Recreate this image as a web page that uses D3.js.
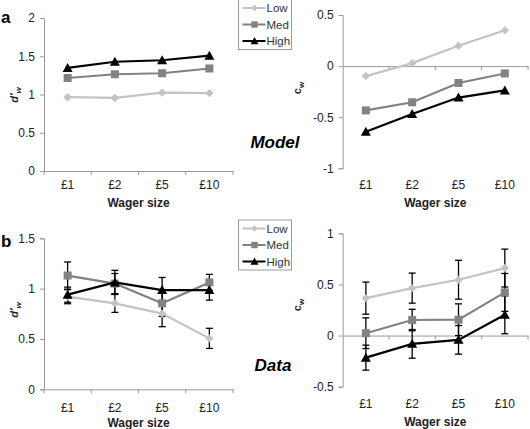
<!DOCTYPE html>
<html><head><meta charset="utf-8">
<script src="https://cdn.jsdelivr.net/npm/d3@7"></script>
<style>body{margin:0;background:#fff}svg{display:block;font-family:"Liberation Sans",Arial,sans-serif}</style>
</head><body><svg id="c" width="530" height="429"></svg>
<script>
const categories = ["£1","£2","£5","£10"];
const seriesNames = ["Low","Med","High"];
// Model (a)
const modelD_Low  = [0.965,0.955,1.024,1.018];
const modelD_Med  = [1.216,1.265,1.278,1.340];
const modelD_High = [1.348,1.428,1.448,1.508];
const modelC_Low  = [-0.098,0.029,0.199,0.350];
const modelC_Med  = [-0.434,-0.354,-0.165,-0.072];
const modelC_High = [-0.642,-0.468,-0.308,-0.238];
// Data (b)
const dataD_Low  = [0.920,0.854,0.752,0.506];
const dataD_Med  = [1.130,1.050,0.854,1.062];
const dataD_High = [0.940,1.062,0.986,0.986];
const dataD_LowErr  = [0.07,0.09,0.13,0.10];
const dataD_MedErr  = [0.135,0.10,0.13,0.08];
const dataD_HighErr = [0.075,0.12,0.125,0.10];
const dataC_Low  = [0.366,0.464,0.546,0.660];
const dataC_Med  = [0.023,0.152,0.155,0.422];
const dataC_High = [-0.216,-0.081,-0.042,0.203];
const dataC_LowErr  = [0.157,0.147,0.19,0.185];
const dataC_MedErr  = [0.15,0.105,0.155,0.185];
const dataC_HighErr = [0.122,0.14,0.14,0.185];
const ticksDa = [0,0.5,1,1.5,2];
const ticksCa = [-1,-0.5,0,0.5];
const ticksDb = [0,0.5,1,1.5];
const ticksCb = [-0.5,0,0.5,1];

const colors = {Low:"#c3c3c3", Med:"#828282", High:"#000000"};
const svg = d3.select("#c");

function marker(g, name, x, y, s){
  if(name==="Low"){
    const r = 4.2*s;
    g.append("path").attr("d",`M${x},${y-r}L${x+r},${y}L${x},${y+r}L${x-r},${y}Z`).attr("fill",colors.Low);
  } else if(name==="Med"){
    const r = 4*s;
    g.append("rect").attr("x",x-r).attr("y",y-r).attr("width",2*r).attr("height",2*r).attr("fill",colors.Med);
  } else {
    const r = 5*s;
    g.append("path").attr("d",`M${x},${y-r}L${x+r},${y+r*0.8}L${x-r},${y+r*0.8}Z`).attr("fill","#000");
  }
}

function panel(o){
  const g = svg.append("g");
  const x = d3.scaleBand().domain(categories).range([o.x0,o.x1]);
  const y = d3.scaleLinear().domain(o.domain).range([o.yb,o.yt]);
  const axisCol = "#9a9a9a";
  // y axis
  const ya = g.append("g").attr("transform",`translate(${o.x0},0)`)
    .call(d3.axisLeft(y).tickValues(o.ticks).tickSize(4).tickPadding(5).tickFormat(d=>String(d)));
  ya.select(".domain").attr("stroke",axisCol);
  ya.selectAll(".tick line").attr("stroke",axisCol);
  ya.selectAll("text").attr("font-size",12).attr("fill","#222");
  // x axis at zero or bottom
  const xAxY = y(Math.max(o.domain[0],0));
  const xa = g.append("g").attr("transform",`translate(0,${xAxY})`)
    .call(d3.axisBottom(x).tickSize(0).tickFormat(""));
  xa.select(".domain").attr("stroke",axisCol);
  xa.selectAll(".tick").remove();
  const bounds = categories.map(c=>x(c)).concat([o.x1]);
  g.selectAll(".bt").data(bounds.slice(o.domain[0]<0?1:0)).enter().append("line")
    .attr("x1",d=>d).attr("x2",d=>d).attr("y1",xAxY).attr("y2",xAxY+4).attr("stroke",axisCol);
  // category labels
  g.selectAll(".cl").data(categories).enter().append("text")
    .attr("x",d=>x(d)+x.bandwidth()/2).attr("y",o.labY).attr("text-anchor","middle")
    .attr("font-size",12).attr("fill","#222").text(d=>d);
  g.append("text").attr("x",(o.x0+o.x1)/2).attr("y",o.titY).attr("text-anchor","middle")
    .attr("font-size",12).attr("font-weight","bold").attr("fill","#222").text("Wager size");
  // y label
  const yl = g.append("text").attr("transform",`translate(${o.ylx},${o.yly}) rotate(-90)`)
    .attr("text-anchor","middle").attr("font-size",11).attr("font-weight","bold").attr("fill","#222");
  if(o.ylab==="d"){
    yl.append("tspan").attr("font-style","italic").text("d'");
    yl.append("tspan").attr("font-size",8).attr("dy",3).attr("font-style","italic").text("w");
  } else {
    yl.append("tspan").text("c");
    yl.append("tspan").attr("font-size",8).attr("dy",3).text("w");
  }
  const cx = c=>x(c)+x.bandwidth()/2;
  // error bars
  if(o.errs){
    seriesNames.forEach(n=>{
      const v=o.series[n], e=o.errs[n];
      categories.forEach((c,i)=>{
        const X=cx(c), t=y(v[i]+e[i]), b=y(v[i]-e[i]);
        g.append("line").attr("x1",X).attr("x2",X).attr("y1",t).attr("y2",b).attr("stroke","#000").attr("stroke-width",1.3);
        [t,b].forEach(yy=>g.append("line").attr("x1",X-3.5).attr("x2",X+3.5).attr("y1",yy).attr("y2",yy).attr("stroke","#000").attr("stroke-width",1.3));
      });
    });
  }
  const line = d3.line().x((d,i)=>cx(categories[i])).y(d=>y(d));
  seriesNames.forEach(n=>{
    g.append("path").attr("d",line(o.series[n])).attr("fill","none").attr("stroke",colors[n]).attr("stroke-width",2.2);
    o.series[n].forEach((v,i)=>marker(g,n,cx(categories[i]),y(v),1));
  });
}

function legend(x0,y0){
  const g = svg.append("g");
  g.append("rect").attr("x",x0).attr("y",y0).attr("width",53).attr("height",50).attr("fill","#fff").attr("stroke","#9a9a9a").attr("stroke-width",1);
  seriesNames.forEach((n,i)=>{
    const yy = y0+8.5+i*16.5;
    g.append("line").attr("x1",x0+4).attr("x2",x0+27).attr("y1",yy).attr("y2",yy).attr("stroke",colors[n]).attr("stroke-width",2);
    marker(g,n,x0+16,yy,0.8);
    g.append("text").attr("x",x0+28).attr("y",yy+4).attr("font-size",11.5).attr("fill","#333").text(n);
  });
}

panel({x0:44,x1:233,yt:18,yb:171,domain:[0,2],ticks:ticksDa,labY:189,titY:207,ylab:"d",ylx:18,yly:95,
  series:{Low:modelD_Low,Med:modelD_Med,High:modelD_High}});
panel({x0:342.7,x1:528,yt:15,yb:168.3,domain:[-1,0.5],ticks:ticksCa,labY:189,titY:207,ylab:"c",ylx:301,yly:88,
  series:{Low:modelC_Low,Med:modelC_Med,High:modelC_High}});
panel({x0:44,x1:233,yt:238.3,yb:389.3,domain:[0,1.5],ticks:ticksDb,labY:412,titY:426.5,ylab:"d",ylx:18,yly:310,
  series:{Low:dataD_Low,Med:dataD_Med,High:dataD_High},
  errs:{Low:dataD_LowErr,Med:dataD_MedErr,High:dataD_HighErr}});
panel({x0:342.7,x1:528,yt:233.3,yb:386.7,domain:[-0.5,1],ticks:ticksCb,labY:407.5,titY:426,ylab:"c",ylx:301,yly:305,
  series:{Low:dataC_Low,Med:dataC_Med,High:dataC_High},
  errs:{Low:dataC_LowErr,Med:dataC_MedErr,High:dataC_HighErr}});

legend(238.5,-0.5);
legend(238.5,220);

svg.append("text").attr("x",1).attr("y",23).attr("font-size",17).attr("font-weight","bold").text("a");
svg.append("text").attr("x",1).attr("y",247).attr("font-size",17).attr("font-weight","bold").text("b");
svg.append("text").attr("x",275).attr("y",148).attr("text-anchor","middle").attr("font-size",17).attr("font-weight","bold").attr("font-style","italic").text("Model");
svg.append("text").attr("x",273).attr("y",371).attr("text-anchor","middle").attr("font-size",17).attr("font-weight","bold").attr("font-style","italic").text("Data");
</script></body></html>
